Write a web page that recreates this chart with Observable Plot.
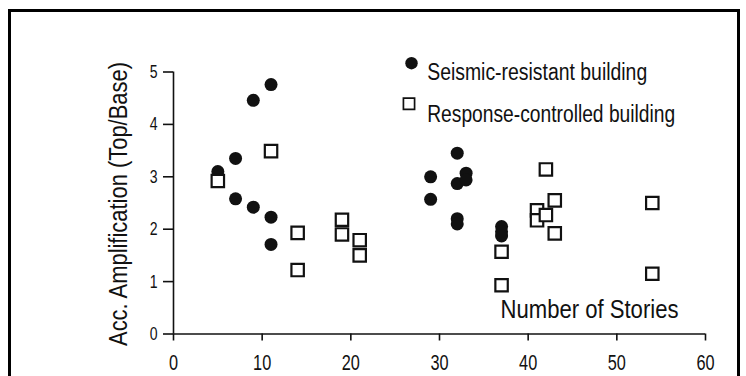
<!DOCTYPE html>
<html><head><meta charset="utf-8">
<script src="https://cdn.jsdelivr.net/npm/d3@7"></script>
<script src="https://cdn.jsdelivr.net/npm/@observablehq/plot@0.6"></script>
<style>
html,body{margin:0;padding:0;background:#fff;overflow:hidden;}
#wrap{position:relative;width:746px;height:376px;overflow:hidden;}
#border{position:absolute;left:8px;top:9px;width:732px;height:420px;border:3px solid #000;box-sizing:border-box;pointer-events:none;}
</style></head><body><div id="wrap"><div id="border"></div></div>
<script>
const seismicStories = [5, 7, 7, 9, 9, 11, 11, 11, 29, 29, 32, 32, 32, 32, 33, 33, 37, 37, 37];
const seismicAmp     = [3.1, 3.35, 2.58, 4.46, 2.42, 4.76, 2.23, 1.71, 3.0, 2.57, 3.45, 2.87, 2.2, 2.1, 3.07, 2.94, 2.05, 1.95, 1.87];
const responseStories = [5, 11, 14, 14, 19, 19, 21, 21, 37, 37, 41, 41, 42, 42, 43, 43, 54, 54];
const responseAmp     = [2.92, 3.49, 1.93, 1.22, 2.18, 1.9, 1.79, 1.5, 1.57, 0.93, 2.36, 2.17, 3.14, 2.27, 2.55, 1.92, 2.5, 1.15];
const xTicks = [0, 10, 20, 30, 40, 50, 60];
const yTicks = [0, 1, 2, 3, 4, 5];
const seriesNames = ["Seismic-resistant building", "Response-controlled building"];
const xLabel = "Number of Stories";
const yLabel = "Acc. Amplification (Top/Base)";

const font = '"Liberation Sans Narrow", "Liberation Sans", Arial, sans-serif';
const seismic = seismicStories.map((s, i) => ({stories: s, amp: seismicAmp[i]}));
const response = responseStories.map((s, i) => ({stories: s, amp: responseAmp[i]}));
const ink = "#111";

const chart = Plot.plot({
  width: 746, height: 376,
  marginLeft: 173, marginRight: 41, marginTop: 71.5, marginBottom: 42.5,
  style: {fontFamily: font, background: "transparent", color: ink, overflow: "visible"},
  x: {domain: [0, 60]},
  y: {domain: [0, 5]},
  marks: [
    Plot.axisX({ticks: xTicks, tickFormat: "d", tickSize: 7, tickPadding: 13, fontSize: 22, label: null, strokeWidth: 1.6}),
    Plot.axisY({ticks: yTicks, tickFormat: "d", tickSize: 10, tickPadding: 6, fontSize: 19, label: null, strokeWidth: 1.6}),
    Plot.ruleX([0], {y1: 0, y2: 5, stroke: ink, strokeWidth: 1.6}),
    Plot.ruleY([0], {x1: 0, x2: 60, stroke: ink, strokeWidth: 1.6}),
    Plot.dot(seismic, {x: "stories", y: "amp", r: 6.5, fill: ink, symbol: "circle"}),
    Plot.dot(response, {x: "stories", y: "amp", r: 7, symbol: "square", fill: "white", stroke: ink, strokeWidth: 2.2}),
    // legend
    Plot.dot([seriesNames[0]], {frameAnchor: "top-left", dx: 238, dy: -8.8, r: 6.2, fill: ink, symbol: "circle"}),
    Plot.dot([seriesNames[1]], {frameAnchor: "top-left", dx: 235.5, dy: 31.8, r: 6.3, fill: "white", stroke: ink, strokeWidth: 1.7, symbol: "square"}),
    Plot.text([seriesNames[0]], {text: d => d, frameAnchor: "top-left", dx: 253.7, dy: -8.5, textAnchor: "start", fontSize: 23, fill: ink}),
    Plot.text([seriesNames[1]], {text: d => d, frameAnchor: "top-left", dx: 253.7, dy: 33.5, textAnchor: "start", fontSize: 23, fill: ink}),
    Plot.text([xLabel], {text: d => d, frameAnchor: "bottom-right", textAnchor: "end", dx: -27, dy: -16.5, fontSize: 25, fill: ink}),
    Plot.text([yLabel], {text: d => d, frameAnchor: "left", textAnchor: "middle", rotate: -90, dx: -55, dy: 1, fontSize: 25, fill: ink})
  ]
});
document.getElementById("wrap").prepend(chart);

// condensed lettering, as in the reference
const targetWidths = new Map([[seriesNames[0], 220], [seriesNames[1], 248], [xLabel, 178], [yLabel, 284]]);
d3.select(chart).selectAll("text").each(function () {
  const t = this.textContent;
  const natural = this.getComputedTextLength();
  const w = targetWidths.has(t) ? targetWidths.get(t) : natural * 0.74;
  this.setAttribute("textLength", w);
  this.setAttribute("lengthAdjust", "spacingAndGlyphs");
});
</script>
</body></html>
